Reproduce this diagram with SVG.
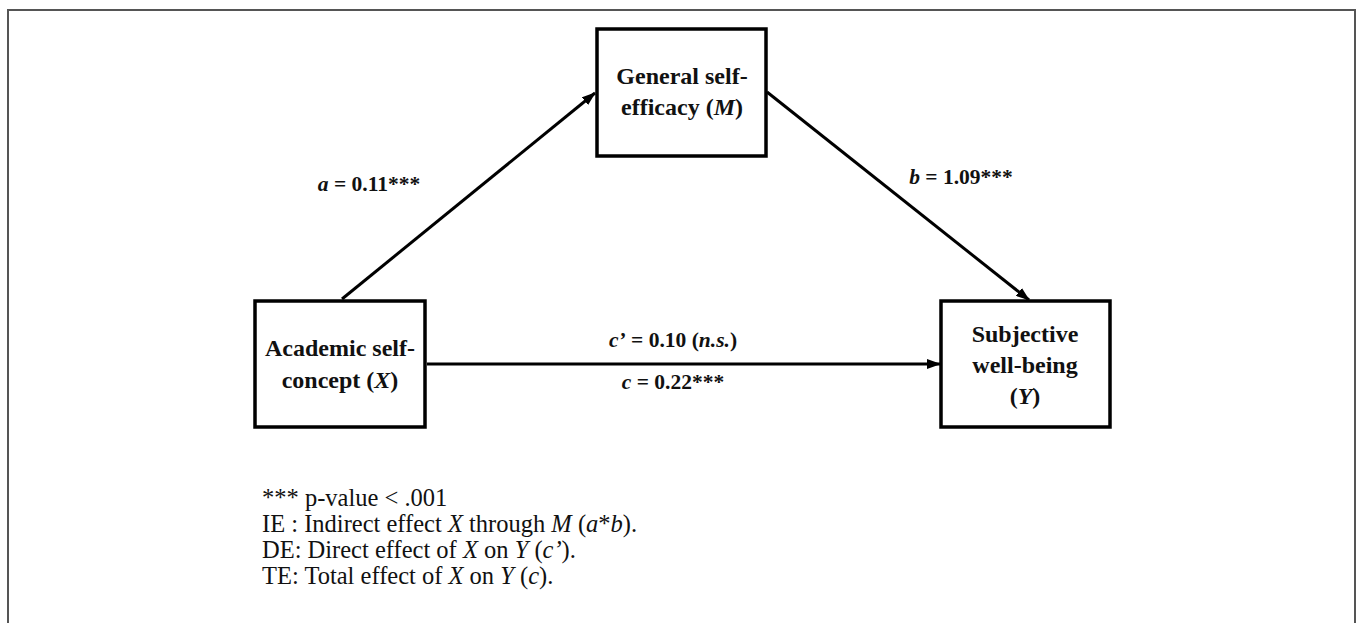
<svg xmlns="http://www.w3.org/2000/svg" width="1357" height="623" viewBox="0 0 1357 623">
<style>
.box{fill:#fff;stroke:#000;stroke-width:3.5}
.lbl{font-family:"Liberation Serif",serif;font-weight:bold;font-size:24px;fill:#111;text-anchor:middle}
.el{font-family:"Liberation Serif",serif;font-weight:bold;font-size:21.5px;fill:#111;text-anchor:middle}
.note{font-family:"Liberation Serif",serif;font-size:24.5px;fill:#111}
.edge{stroke:#000;stroke-width:3;fill:none}
</style>
<defs>
<marker id="arr" markerWidth="14" markerHeight="10" refX="13" refY="5" orient="auto" markerUnits="userSpaceOnUse">
<path d="M0,0 L14,5 L0,10 z" fill="#000"/>
</marker>
</defs>
<rect x="8" y="10" width="1347" height="625" fill="#fff" stroke="#555" stroke-width="2"/>
<g id="connectors">
<line class="edge" x1="342" y1="299" x2="595" y2="93" marker-end="url(#arr)"/>
<line class="edge" x1="767" y1="92" x2="1029" y2="300" marker-end="url(#arr)"/>
<line class="edge" x1="427" y1="364" x2="940" y2="364" marker-end="url(#arr)"/>
<text class="el" x="369" y="191"><tspan font-style="italic">a</tspan> = 0.11***</text>
<text class="el" x="961" y="184"><tspan font-style="italic">b</tspan> = 1.09***</text>
<text class="el" x="673" y="347"><tspan font-style="italic">c’</tspan> = 0.10 (<tspan font-style="italic">n.s.</tspan>)</text>
<text class="el" x="673" y="389"><tspan font-style="italic">c</tspan> = 0.22***</text>
</g>
<g id="node-M">
<rect class="box" x="597" y="29" width="169" height="127"/>
<text class="lbl" x="682" y="84">General self-</text>
<text class="lbl" x="682" y="115">efficacy (<tspan font-style="italic">M</tspan>)</text>
</g>
<g id="node-X">
<rect class="box" x="255" y="301" width="170" height="126"/>
<text class="lbl" x="340" y="356">Academic self-</text>
<text class="lbl" x="340" y="388">concept (<tspan font-style="italic">X</tspan>)</text>
</g>
<g id="node-Y">
<rect class="box" x="941" y="301" width="169" height="126"/>
<text class="lbl" x="1025" y="342">Subjective</text>
<text class="lbl" x="1025" y="373">well-being</text>
<text class="lbl" x="1025" y="404">(<tspan font-style="italic">Y</tspan>)</text>
</g>
<g id="notes">
<text class="note" x="262" y="506">*** p-value &lt; .001</text>
<text class="note" x="262" y="532">IE : Indirect effect <tspan font-style="italic">X</tspan> through <tspan font-style="italic">M</tspan> (<tspan font-style="italic">a</tspan>*<tspan font-style="italic">b</tspan>).</text>
<text class="note" x="262" y="558">DE: Direct effect of <tspan font-style="italic">X</tspan> on <tspan font-style="italic">Y</tspan> (<tspan font-style="italic">c’</tspan>).</text>
<text class="note" x="262" y="584">TE: Total effect of <tspan font-style="italic">X</tspan> on <tspan font-style="italic">Y</tspan> (<tspan font-style="italic">c</tspan>).</text>
</g>
</svg>
